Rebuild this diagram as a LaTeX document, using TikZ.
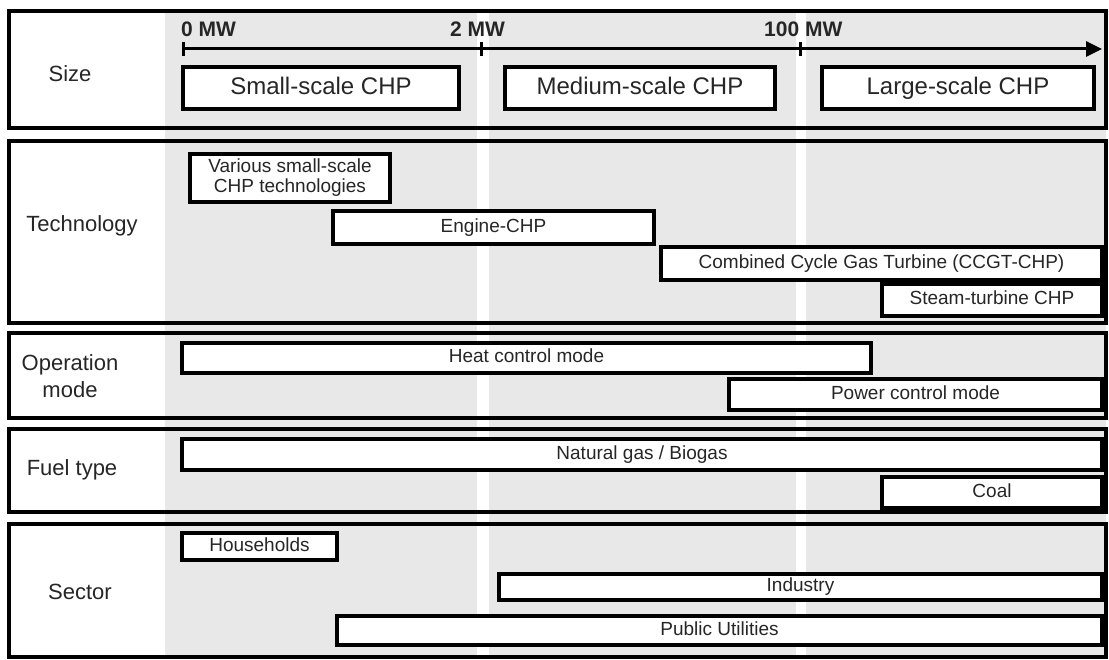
\documentclass[tikz,border=0pt]{standalone}
\usepackage{fontspec}
\setmainfont{Liberation Sans}
\usetikzlibrary{arrows.meta}
\definecolor{colshade}{HTML}{E8E8E8}
\begin{document}
\begin{tikzpicture}[x=1pt,y=-1pt,
  panel/.style={draw=black, line width=3.2pt},
  bar/.style={draw=black, fill=white, line width=3.2pt, inner sep=0pt,
    font=\fontsize{19}{20}\selectfont, align=center, text=black!85,
    text height=13.6pt, text depth=3.8pt},
  sizebox/.style={bar, font=\fontsize{24}{28}\selectfont, text height=17.2pt, text depth=4.8pt},
  lbl/.style={font=\fontsize{22}{27}\selectfont, align=center, text=black!85},
  ticklbl/.style={font=\bfseries\fontsize{21}{24}\selectfont, anchor=base west, inner sep=0pt, text=black!85},
  axisline/.style={draw=black, line width=3pt}]
\useasboundingbox (0,0) rectangle (1109,660);
\fill[white] (0,0) rectangle (1109,660);
% shaded columns
\fill[colshade] (165,11) rectangle (477,657);
\fill[colshade] (489,11) rectangle (796,657);
\fill[colshade] (806,11) rectangle (1106,657);
% panels
\draw[panel] (9,11) rectangle (1106,128);
\draw[panel] (9,141) rectangle (1106,323);
\draw[panel] (9,333) rectangle (1106,418);
\draw[panel] (9,429) rectangle (1106,512);
\draw[panel] (9,524) rectangle (1106,657);
% labels
\node[lbl] (sizelbl) at (70,74) {Size};
\node[lbl] (techlbl) at (82,226) {Technology};
\node[lbl] (oplbl) at (70,376) {Operation\\mode};
\node[lbl] (fuellbl) at (72,470) {Fuel type};
\node[lbl] (seclbl) at (80,592) {Sector};
% axis
\coordinate (a0) at (183,49);
\coordinate (a2) at (481,49);
\coordinate (a100) at (800,49);
\coordinate (aend) at (1102,49);
\draw[axisline, -{Triangle[length=16pt,width=15pt]}] (a0) -- (aend);
\draw[axisline] ([yshift=-7pt]a0) -- ([yshift=7pt]a0);
\draw[axisline] ([yshift=-7pt]a2) -- ([yshift=7pt]a2);
\draw[axisline] ([yshift=-7pt]a100) -- ([yshift=7pt]a100);
\node[ticklbl] (l0) at (181,37) {0 MW};
\node[ticklbl] (l2) at (450,37) {2 MW};
\node[ticklbl] (l100) at (764,37) {100 MW};
% size boxes
\node[sizebox, minimum width=276pt, minimum height=42pt] (small) at (321,88) {Small-scale CHP};
\node[sizebox, minimum width=270pt, minimum height=42pt] (medium) at (640,88) {Medium-scale CHP};
\node[sizebox, minimum width=272pt, minimum height=42pt] (large) at (958,88) {Large-scale CHP};
% technology
\node[bar, minimum width=200pt, minimum height=48pt, text height=, text depth=] (various) at (290,178) {Various small-scale\\CHP technologies};
\node[bar, minimum width=321pt, minimum height=33pt] (engine) at (493.5,227.5) {Engine-CHP};
\node[bar, minimum width=441pt, minimum height=33pt] (ccgt) at (881.5,263.5) {Combined Cycle Gas Turbine (CCGT-CHP)};
\node[bar, minimum width=220pt, minimum height=32pt] (steam) at (992,300) {Steam-turbine CHP};
% operation
\node[bar, minimum width=689pt, minimum height=30pt] (heat) at (526.5,358) {Heat control mode};
\node[bar, minimum width=373pt, minimum height=31pt] (power) at (915.5,394.5) {Power control mode};
% fuel
\node[bar, minimum width=920pt, minimum height=31pt] (gas) at (642,454.5) {Natural gas / Biogas};
\node[bar, minimum width=220pt, minimum height=31pt] (coal) at (992,492.5) {Coal};
% sector
\node[bar, minimum width=155pt, minimum height=27pt] (house) at (259.5,546.5) {Households};
\node[bar, minimum width=603pt, minimum height=26pt] (industry) at (800.5,587) {Industry};
\node[bar, minimum width=765pt, minimum height=29pt] (public) at (719.5,630.5) {Public Utilities};
\end{tikzpicture}
\end{document}
